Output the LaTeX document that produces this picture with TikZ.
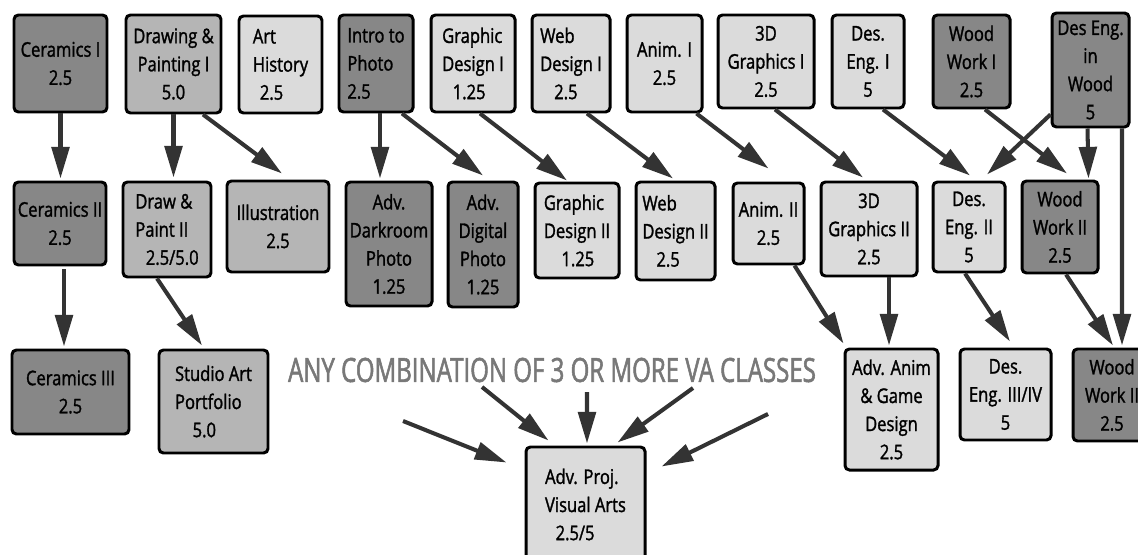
\documentclass[tikz,border=0pt]{standalone}
\usepackage{fontspec}
\setmainfont{Open Sans}[FakeStretch=0.82,FakeBold=1.4]
\newfontfamily\bannerfont{Open Sans}[FakeStretch=0.72,FakeBold=1.6]
\usetikzlibrary{arrows.meta,calc}
\definecolor{dkfill}{gray}{0.53}
\definecolor{mdfill}{gray}{0.71}
\definecolor{ltfill}{gray}{0.86}
\definecolor{arrgray}{gray}{0.2}
\definecolor{bannergray}{gray}{0.47}
\newlength\px
\setlength\px{0.02cm}

\begin{document}
\begin{tikzpicture}[x=0.02cm, y=-0.02cm, font=\fontsize{11.5}{16}\selectfont,
	course/.style={draw=black, line width=1.7pt, rounded corners=2.5pt, inner sep=1pt, align=center},
	dk/.style={course, fill=dkfill},
	md/.style={course, fill=mdfill},
	lt/.style={course, fill=ltfill},
	arr/.style={draw=arrgray, line width=2.3pt, -{Triangle[length=18pt,width=10pt]}}]
	\useasboundingbox (0,0) rectangle (1138,554);
	\clip (0,0) rectangle (1138,554);
	% first row
	\node[dk, minimum width=93\px, minimum height=97\px] (cer1) at (60.5,63.5) {Ceramics I\\2.5};
	\node[md, minimum width=95\px, minimum height=98\px] (drw1) at (173.5,64) {Drawing \&\\Painting I\\5.0};
	\node[lt, align=left, minimum width=83\px, minimum height=97\px] (arth) at (280.5,64.5) {Art\\History\\\hspace*{4pt}2.5};
	\node[dk, align=left, minimum width=74\px, minimum height=97\px] (pho1) at (376,63.5) {Intro to\\Photo\\2.5};
	\node[lt, align=left, minimum width=84\px, minimum height=97\px] (gd1) at (473,63.5) {Graphic\\Design I\\\hspace*{6pt}1.25};
	\node[lt, align=left, minimum width=78\px, minimum height=97\px] (wd1) at (571,63.5) {Web\\Design I\\\hspace*{8pt}2.5};
	\node[lt, minimum width=75\px, minimum height=97\px] (an1) at (664.5,63.5) {Anim. I\\2.5};
	\node[lt, minimum width=96\px, minimum height=93\px] (gr1) at (766,61.5) {3D\\Graphics I\\2.5};
	\node[lt, minimum width=72\px, minimum height=93\px] (de1) at (868,61.5) {Des.\\Eng. I\\5};
	\node[dk, minimum width=77\px, minimum height=93\px] (ww1) at (971.5,61.5) {Wood\\Work I\\2.5};
	\node[dk, minimum width=77\px, minimum height=114\px] (dew) at (1090.5,70) {Des Eng.\\in\\Wood\\5};
	% second row
	\node[dk, minimum width=92\px, minimum height=83\px] (cer2) at (60,223.5) {Ceramics II\\2.5};
	\node[md, align=left, minimum width=88\px, minimum height=95\px] (drw2) at (167,229.5) {Draw \&\\Paint II\\\hspace*{6pt}2.5/5.0};
	\node[md, minimum width=102\px, minimum height=91\px] (ill) at (278,226.5) {Illustration\\2.5};
	\node[dk, minimum width=86\px, minimum height=124\px] (dark) at (389,244) {Adv.\\Darkroom\\Photo\\1.25};
	\node[dk, minimum width=70\px, minimum height=125\px] (dig) at (483,244.5) {Adv.\\Digital\\Photo\\1.25};
	\node[lt, align=left, minimum width=84\px, minimum height=95\px] (gd2) at (577,230.5) {Graphic\\Design II\\\hspace*{10pt}1.25};
	\node[lt, align=left, minimum width=79\px, minimum height=98\px] (wd2) at (675.5,231) {Web\\Design II\\\hspace*{8pt}2.5};
	\node[lt, minimum width=71\px, minimum height=81\px] (an2) at (768.5,223.5) {Anim. II\\2.5};
	\node[lt, minimum width=96\px, minimum height=94\px] (gr2) at (869,229) {3D\\Graphics II\\2.5};
	\node[lt, minimum width=72\px, minimum height=90\px] (de2) at (969,227) {Des.\\Eng. II\\5};
	\node[dk, minimum width=76\px, minimum height=92\px] (ww2) at (1060,227) {Wood\\Work II\\2.5};
	% third row
	\node[dk, minimum width=117\px, minimum height=84\px] (cer3) at (70.5,392) {Ceramics III\\2.5};
	\node[md, align=left, minimum width=109\px, minimum height=103\px] (stu) at (213.5,401.5) {Studio Art\\Portfolio\\\hspace*{10pt}5.0};
	\node[lt, align=left, minimum width=119\px, minimum height=115\px] (proj) at (585.5,504.5) {Adv. Proj.\\Visual Arts\\\hspace*{6pt}2.5/5};
	\node[lt, minimum width=93\px, minimum height=121\px] (anim) at (891.5,409.5) {Adv. Anim\\\& Game\\Design\\2.5};
	\node[lt, minimum width=91\px, minimum height=91\px] (de3) at (1005.5,394.5) {Des.\\Eng. III/IV\\5};
	\node[dk, minimum width=78\px, minimum height=92\px] (ww3) at (1112,395) {Wood\\Work II\\2.5};
	\node[text=bannergray, font=\bannerfont\fontsize{19}{22}\selectfont, inner sep=0pt] (banner) at (552,370) {ANY COMBINATION OF 3 OR MORE VA CLASSES};
	% row one to row two
	\draw[arr] (cer1) -- ($(cer1 |- cer2.north)+(0,-2)$);
	\draw[arr] (drw1) -- ($(drw1 |- drw2.north)+(0,-3)$);
	\draw[arr] ($(drw1.south)+(29.5,0)$) -- ($(ill.north)+(4,-6)$);
	\draw[arr] ($(pho1.south)+(4,0)$) -- ($(pho1.south |- dark.north)+(4,-2)$);
	\draw[arr] ($(pho1.south)+(26,0)$) -- ($(dig.north)+(0,-5)$);
	\draw[arr] ($(gd1.south)+(7,0)$) -- ($(gd2.north)+(-10,-1)$);
	\draw[arr] ($(wd1.south)+(16,0)$) -- ($(wd2.north)+(-2.5,-2)$);
	\draw[arr] ($(an1.south east)+(-7,0)$) -- ($(an2.north)+(0,-13)$);
	\draw[arr] ($(gr1.south)+(9,0)$) -- ($(gr2.north)+(-6,-3)$);
	\draw[arr] ($(de1.south)+(15,0)$) -- ($(de2.north)+(1,-5)$);
	\draw[arr] ($(ww1.south)+(13.5,0)$) -- ($(ww2.north)+(7,-6)$);
	\draw[arr] ($(dew.south west)+(0,-14)$) -- ($(de2.north)+(18,-6)$);
	\draw[arr] ($(dew.south)+(-3,0)$) -- ($(ww2.north east)+(-11,-1)$);
	\draw[arr] ($(dew.south)+(31.5,0)$) -- ($(ww3.north)+(10,-2)$);
	% row two to row three
	\draw[arr] ($(cer2.south)+(4,3)$) -- ($(cer3.north)+(-6.5,-2)$);
	\draw[arr] ($(drw2.south)+(-10,0)$) -- ($(stu.north)+(-11.5,-3)$);
	\draw[arr] ($(an2.south east)+(-11,0)$) -- ($(anim.north west)+(0,-4)$);
	\draw[arr] ($(gr2.south)+(20,0)$) -- ($(anim.north)+(-2.5,-2)$);
	\draw[arr] ($(de2.south)+(-4,0)$) -- ($(de3.north)+(4.5,-6)$);
	\draw[arr] ($(ww2.south)+(6,0)$) -- ($(ww3.north)+(1,-2)$);
	% any combination
	\coordinate (va1) at (403,421);
	\coordinate (va2) at (482,387);
	\coordinate (va3) at (587,392);
	\coordinate (va4) at (693,388);
	\coordinate (va5) at (768,414);
	\draw[arr] (va1) -- ($(proj.north west)+(-18,17)$);
	\draw[arr] (va2) -- ($(proj.north west)+(24,-5)$);
	\draw[arr] (va3) -- ($(proj.north)+(1.5,-2)$);
	\draw[arr] (va4) -- ($(proj.north west)+(93,-3)$);
	\draw[arr] (va5) -- ($(proj.north east)+(15,21)$);
\end{tikzpicture}
\end{document}
